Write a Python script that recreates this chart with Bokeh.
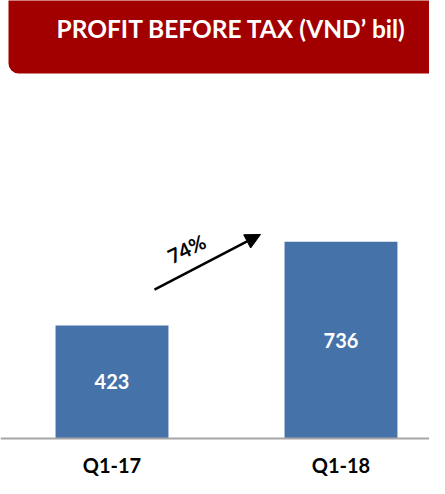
from bokeh.plotting import figure
from bokeh.models import Range1d, BoxAnnotation, Label, Arrow, NormalHead, Span, ColumnDataSource
from bokeh.core.properties import value
from bokeh.embed import file_html
from bokeh.resources import INLINE

# ---- data ----
categories = ["Q1-17", "Q1-18"]
profit = [423, 736]
growth_text = "74%"
title_text = "PROFIT BEFORE TAX (VND\u2019 bil)"

FONT = "Lato"
BAR_COLOR = "#4672AA"
HEAD_COLOR = "#A20000"

xs = list(range(len(categories)))
src = ColumnDataSource(dict(
    x=xs,
    top=profit,
    mid=[v / 2 for v in profit],
    lbl=[str(v) for v in profit],
    cat=categories,
    zero=[0] * len(profit),
))

p = figure(width=429, height=478, output_backend="svg", toolbar_location=None,
           x_axis_location=None, y_axis_location=None,
           x_range=Range1d(-0.4869, 1.3865), y_range=Range1d(-149.6, 1638.0),
           min_border=0, outline_line_color=None, background_fill_color="white",
           border_fill_color="white")
p.grid.visible = False

# header banner
p.add_layout(BoxAnnotation(left=-0.452, right=2.5, bottom=1365, top=2000,
                           fill_color=HEAD_COLOR, fill_alpha=1.0, line_color=None,
                           border_radius=10, level="underlay"))
p.add_layout(Label(x=0.5218, y=1533, text=title_text, text_color="white",
                   text_font=FONT, text_font_style="bold", text_font_size="24.5px",
                   text_align="center", text_baseline="middle"))

# bars
p.vbar(x="x", top="top", bottom=0, width=0.493, source=src,
       fill_color=BAR_COLOR, line_color=None)

# baseline
p.add_layout(Span(location=0, dimension="width", line_color="#A6A6A6", line_width=2))

# value labels
p.text(x="x", y="mid", text="lbl", source=src, text_color="white",
       text_font=value(FONT), text_font_style="bold", text_font_size="20px",
       text_align="center", text_baseline="middle")

# category labels
p.text(x="x", y="zero", text="cat", source=src, text_color="black",
       text_font=value(FONT), text_font_style="bold", text_font_size="20px",
       text_align="center", text_baseline="middle", y_offset=27)

# growth arrow
p.add_layout(Arrow(end=NormalHead(size=15, fill_color="black", line_color="black"),
                   x_start=0.1856, y_start=557, x_end=0.6485, y_end=763,
                   line_width=2.5, line_color="black"))
p.add_layout(Label(x=0.3253, y=710, text=growth_text, text_color="black",
                   text_font=FONT, text_font_style="bold", text_font_size="20px",
                   text_align="center", text_baseline="middle", angle=0.45))

open("out.html", "w").write(file_html(p, INLINE))
